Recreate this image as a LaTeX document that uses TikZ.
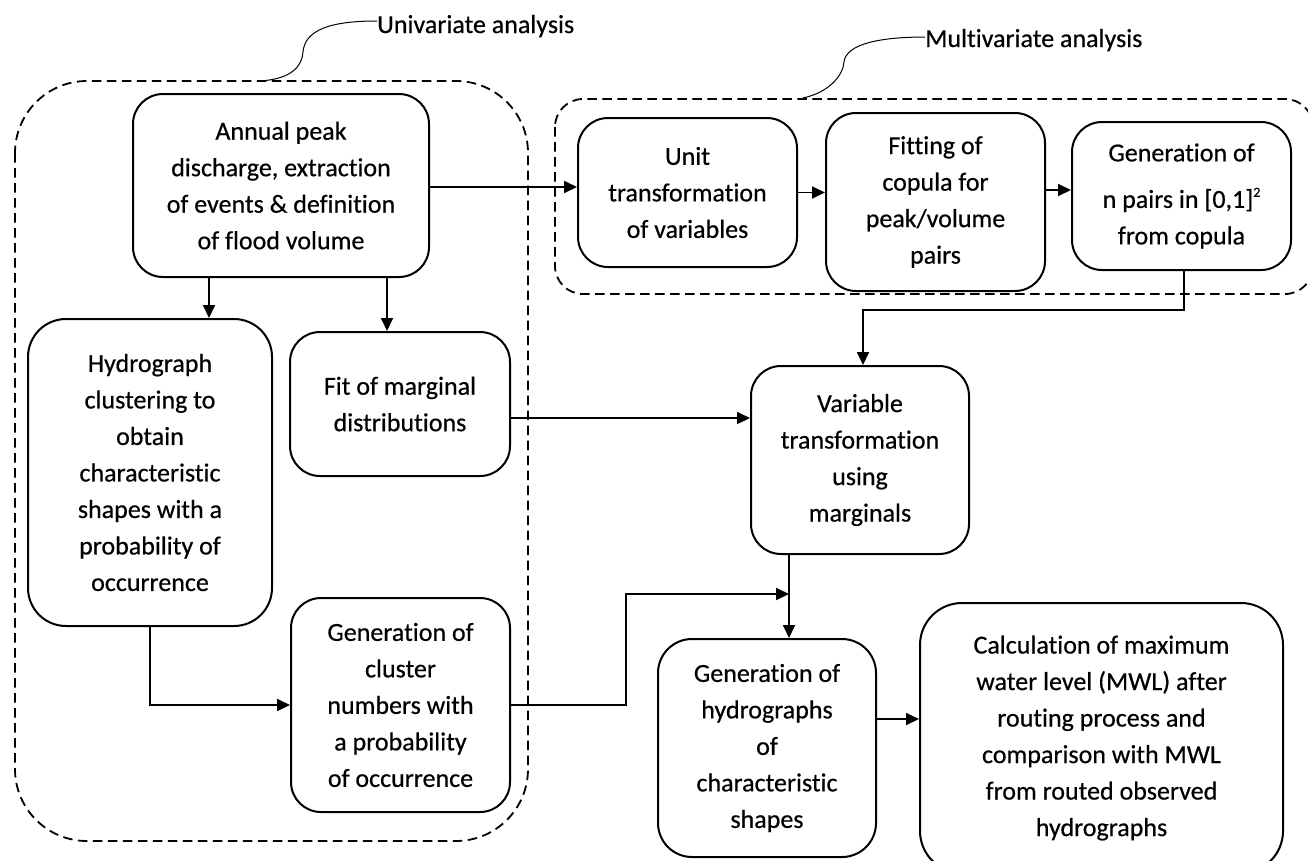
\documentclass[tikz,border=0pt]{standalone}
\usepackage{fontspec}
\setmainfont{Carlito}[Ligatures=NoCommon, FakeBold=0.5]
\usetikzlibrary{arrows.meta}
\begin{document}
\begin{tikzpicture}[x=1pt,y=-1pt,
  box/.style={draw, line width=2pt, rounded corners=30pt, align=center, inner sep=0pt,
    font=\fontsize{26}{36.5}\selectfont},
  conn/.style={line width=1.8pt, -{Triangle[length=13pt,width=12pt]}},
  grp/.style={draw, line width=1.8pt, dash pattern=on 9.5pt off 5.5pt},
  lbl/.style={font=\fontsize{26}{28}\selectfont, anchor=base west, inner sep=0pt},
  callout/.style={line width=1pt}]
\useasboundingbox (0,0) rectangle (1308,860);
\clip (0,0) rectangle (1308,860);

% groups
\draw[grp, rounded corners=72pt] (15,81) rectangle (528,841);
\draw[grp, rounded corners=28pt] (555,99) rectangle (1313,294);

% labels and callout curves
\node[lbl] (ulbl) at (377,33) {Univariate analysis};
\node[lbl] (mlbl) at (925,47) {Multivariate analysis};
\coordinate (uc) at (260,81);
\coordinate (mc) at (803,98);
\draw[callout] (uc) .. controls (292,79) and (302,66) .. (303,52)
  .. controls (305,30) and (330,21) .. (ulbl.west |- 0,21);
\draw[callout] (mc) .. controls (830,92) and (843,75) .. (844,62)
  .. controls (846,44) and (880,37) .. (mlbl.west |- 0,37);

% boxes
\node[box, minimum width=296pt, minimum height=183pt] (annual) at (281,185.5)
  {Annual peak\\discharge, extraction\\of events \& definition\\of flood volume};
\node[box, minimum width=219pt, minimum height=149pt] (unit) at (687.5,192.5)
  {Unit\\transformation\\of variables};
\node[box, minimum width=219pt, minimum height=178pt] (fitting) at (935.5,202)
  {Fitting of\\copula for\\peak/volume\\pairs};
\node[box, minimum width=219pt, minimum height=148pt] (npairs) at (1181.5,196)
  {Generation of\\[10pt]n pairs in [0,1]\raisebox{11pt}{\fontsize{14}{14}\selectfont 2}\\from copula};
\node[box, rounded corners=38pt, minimum width=244pt, minimum height=307pt] (hydro) at (150,472.5)
  {Hydrograph\\clustering to\\obtain\\characteristic\\shapes with a\\probability of\\occurrence};
\node[box, minimum width=220pt, minimum height=144pt] (fitm) at (400,404)
  {Fit of marginal\\distributions};
\node[box, minimum width=218pt, minimum height=188pt] (variable) at (860,460)
  {Variable\\transformation\\using\\marginals};
\node[box, minimum width=219pt, minimum height=214pt] (cluster) at (400.5,705)
  {Generation of\\cluster\\numbers with\\a probability\\of occurrence};
\node[box, rounded corners=34pt, minimum width=218pt, minimum height=218pt] (genhyd) at (767,748)
  {Generation of\\hydrographs\\of\\characteristic\\shapes};
\node[box, rounded corners=42pt, minimum width=363pt, minimum height=270pt] (calc) at (1101.5,738)
  {Calculation of maximum\\water level (MWL) after\\routing process and\\comparison with MWL\\from routed observed\\hydrographs};

% helper coordinates
\coordinate (ya) at (0,187);
\coordinate (yf) at (0,190);
\coordinate (xh) at (209,0);
\coordinate (xm) at (387,0);
\coordinate (ym) at (0,418);
\coordinate (j1) at (863,310);
\coordinate (xk) at (626,0);
\coordinate (m) at (789,594);
\coordinate (yc) at (0,719);
\coordinate (xn) at (1184,0);

% connectors
\draw[conn] (annual.east |- ya) -- (unit.west |- ya);
\draw[conn] (unit.east) -- (unit.east -| fitting.west);
\draw[conn] (fitting.east |- yf) -- (npairs.west |- yf);
\draw[conn] (npairs.south -| xn) |- (j1) -- (j1 |- variable.north);
\draw[conn] (annual.south -| xh) -- (xh |- hydro.north);
\draw[conn] (annual.south -| xm) -- (xm |- fitm.north);
\draw[conn] (fitm.east |- ym) -- (variable.west |- ym);
\draw[conn] (hydro.south) |- (cluster.west);
\draw[conn] (cluster.east) -- (cluster.east -| xk) |- (m);
\draw[conn] (m |- variable.south) -- (m |- genhyd.north);
\draw[conn] (genhyd.east |- yc) -- (calc.west |- yc);
\end{tikzpicture}
\end{document}
